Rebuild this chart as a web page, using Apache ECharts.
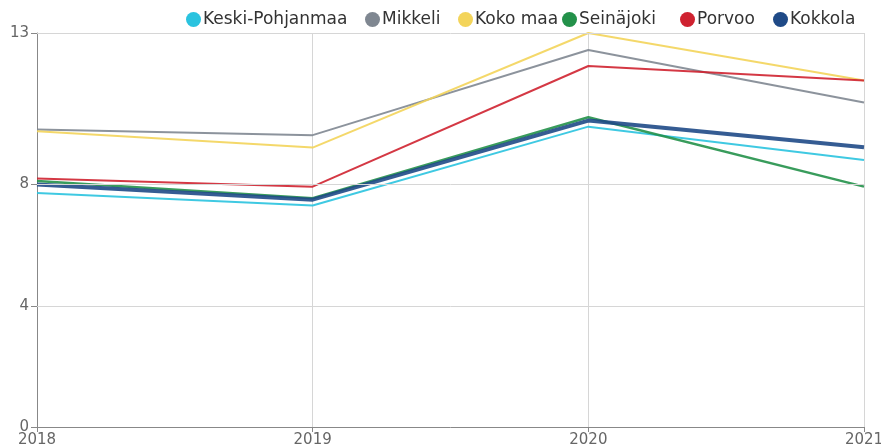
<!DOCTYPE html>
<html>
<head>
<meta charset="utf-8">
<script src="https://cdn.jsdelivr.net/npm/echarts@6/dist/echarts.min.js"></script>
<style>
  html, body { margin: 0; padding: 0; background: #fff; }
  #main { width: 881px; height: 447px; }
</style>
</head>
<body>
<div id="main"></div>
<script>
var years = ['2018', '2019', '2020', '2021'];
var names = ['Keski-Pohjanmaa', 'Mikkeli', 'Koko maa', 'Seinäjoki', 'Porvoo', 'Kokkola'];
var keskiPohjanmaa = [7.72, 7.31, 9.91, 8.81];
var mikkeli = [9.82, 9.63, 12.44, 10.71];
var kokoMaa = [9.76, 9.22, 13.0, 11.43];
var seinajoki = [8.12, 7.55, 10.22, 7.93];
var porvoo = [8.2, 7.93, 11.91, 11.43];
var kokkola = [8.0, 7.5, 10.11, 9.23];
var yTicks = [0, 4, 8, 13];

var values = [keskiPohjanmaa, mikkeli, kokoMaa, seinajoki, porvoo, kokkola];
var colors = ['#2ac3df', '#7f8791', '#f3d45a', '#23914a', '#cf2230', '#1f4a87'];
var widths = [2, 2, 2, 2.5, 2, 4];
var legendLeft = [186, 365, 458, 562, 680, 773];

var series = [];
for (var i = 0; i < names.length; i++) {
    series.push({
        name: names[i],
        type: 'line',
        data: values[i],
        symbol: 'none',
        color: colors[i],
        lineStyle: { width: widths[i], color: colors[i], opacity: 0.9 },
        animation: false
    });
}
// horizontal grid lines only at the labelled values
series[0].markLine = {
    silent: true,
    symbol: 'none',
    label: { show: false },
    lineStyle: { color: '#d6d6d6', width: 1, type: 'solid' },
    data: yTicks.slice(1).map(function (v) { return { yAxis: v }; })
};

var legends = [];
for (var j = 0; j < names.length; j++) {
    legends.push({
        data: [{ name: names[j], icon: 'circle' }],
        left: legendLeft[j],
        top: 11,
        itemWidth: 15,
        itemHeight: 15,
        padding: 0,
        textStyle: { fontFamily: 'DejaVu Sans', fontSize: 17, color: '#333', padding: [0, 0, 0, -3] }
    });
}

var myChart = echarts.init(document.getElementById('main'));
myChart.setOption({
    animation: false,
    legend: legends,
    grid: { left: 37, right: 17, top: 33, bottom: 20, containLabel: false, outerBoundsMode: 'none' },
    xAxis: {
        type: 'category',
        data: years,
        boundaryGap: false,
        axisLine: { lineStyle: { color: '#888', width: 1 } },
        axisTick: { show: true, length: 5, lineStyle: { color: '#888' } },
        axisLabel: { fontFamily: 'DejaVu Sans', fontSize: 15, color: '#666', margin: 6, showMaxLabel: true, showMinLabel: true },
        splitLine: { show: true, lineStyle: { color: '#d6d6d6', width: 1 } }
    },
    yAxis: {
        type: 'value',
        min: 0,
        max: 13,
        interval: 4,
        axisLine: { show: true, lineStyle: { color: '#888', width: 1 } },
        axisTick: { show: true, inside: false, length: 6, lineStyle: { color: '#888', width: 1 }, customValues: yTicks },
        axisLabel: { fontFamily: 'DejaVu Sans', fontSize: 15, color: '#666', margin: 8, customValues: yTicks },
        splitLine: { show: false }
    },
    series: series
});
</script>
</body>
</html>
